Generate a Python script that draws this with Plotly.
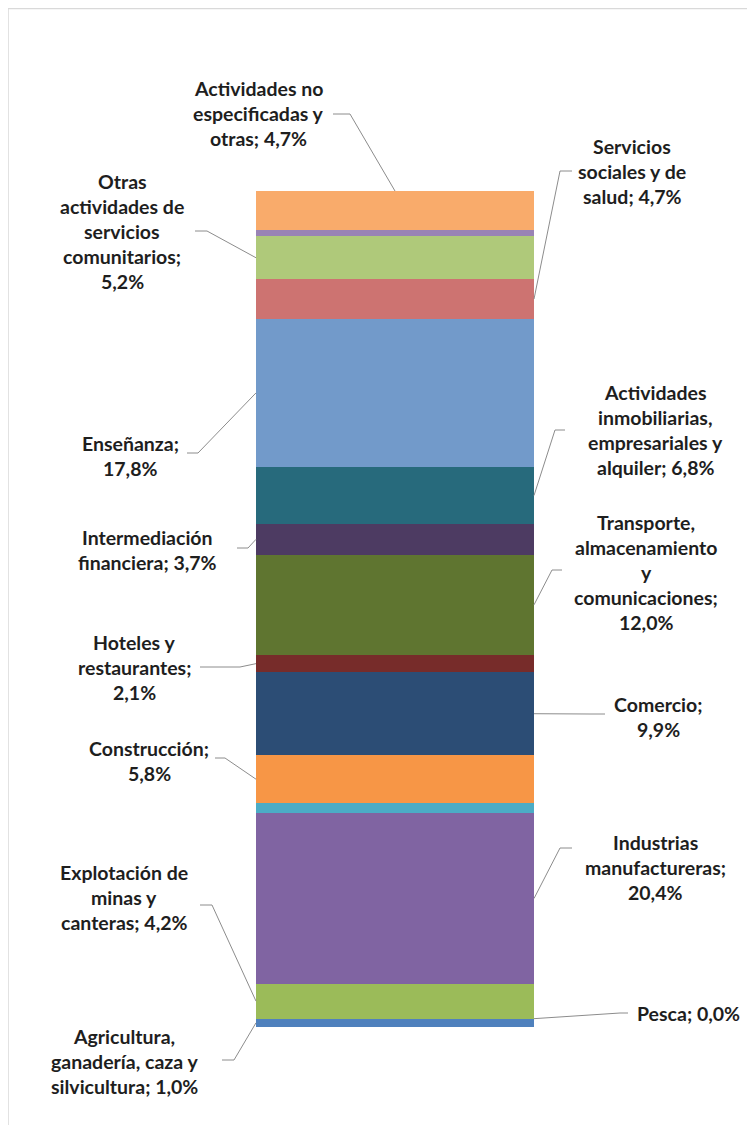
import plotly.graph_objects as go

# ---- data (bottom to top of the stacked column) ----
categories = [
    "Agricultura, ganadería, caza y silvicultura",
    "Pesca",
    "Explotación de minas y canteras",
    "Industrias manufactureras",
    "Suministro de electricidad, gas y agua",
    "Construcción",
    "Comercio",
    "Hoteles y restaurantes",
    "Transporte, almacenamiento y comunicaciones",
    "Intermediación financiera",
    "Actividades inmobiliarias, empresariales y alquiler",
    "Enseñanza",
    "Servicios sociales y de salud",
    "Otras actividades de servicios comunitarios",
    "Hogares privados con servicio doméstico",
    "Actividades no especificadas y otras",
]
values = [1.0, 0.0, 4.2, 20.4, 1.2, 5.8, 9.9, 2.1, 12.0, 3.7, 6.8, 17.8, 4.7, 5.2, 0.7, 4.7]
colors = ["#4F81BD", "#C0504D", "#9BBB59", "#8064A2", "#4BACC6", "#F79646",
          "#2C4D75", "#772C2A", "#5F7530", "#4D3B62", "#276A7C", "#729ACA",
          "#CD7371", "#AFC97A", "#9983B5", "#F9AB6B"]

# label text lines (None = not labelled)
label_lines = [
    ["Agricultura,", "ganadería, caza y", "silvicultura; 1,0%"],
    ["Pesca; 0,0%"],
    ["Explotación de", "minas y", "canteras; 4,2%"],
    ["Industrias", "manufactureras;", "20,4%"],
    None,
    ["Construcción;", "5,8%"],
    ["Comercio;", "9,9%"],
    ["Hoteles y", "restaurantes;", "2,1%"],
    ["Transporte,", "almacenamiento", "y", "comunicaciones;", "12,0%"],
    ["Intermediación", "financiera; 3,7%"],
    ["Actividades", "inmobiliarias,", "empresariales y", "alquiler; 6,8%"],
    ["Enseñanza;", "17,8%"],
    ["Servicios", "sociales y de", "salud; 4,7%"],
    ["Otras", "actividades de", "servicios", "comunitarios;", "5,2%"],
    None,
    ["Actividades no", "especificadas y", "otras; 4,7%"],
]

# ---- layout (page-pixel positions of labels & leader lines) ----
PAGE_W, PAGE_H = 755, 1133
OFF = 8                      # browser body margin
W, H = PAGE_W - 2 * OFF, PAGE_H - 2 * OFF
BAR_CX, BAR_W = 395, 278
BAR_TOP, BAR_BOT = 191, 1027
LINE_H = 25
# center x, first line y, leader start (x,y), elbow x, attach side
label_layout = [
    (124, 1036, (222, 1060), 234, "left"),
    (688, 1013, (628, 1013), 620, "right"),
    (124, 872, (200, 905), 212, "left"),
    (655, 842, (572, 848), 560, "right"),
    None,
    (149, 748, (215, 758), 225, "left"),
    (658, 704, (605, 714), 590, "right"),
    (134, 642, (200, 667), 240, "left"),
    (646, 522, (562, 570), 552, "right"),
    (147, 537, (237, 548), 248, "left"),
    (655, 392, (565, 430), 555, "right"),
    (130, 443, (187, 453), 198, "left"),
    (632, 146, (572, 171), 560, "right"),
    (122, 181, (195, 231), 207, "left"),
    None,
    (258, 88, (333, 114), 350, "top"),
]

total = sum(values)
s = (BAR_BOT - BAR_TOP) / total


def px_x(px):
    return (px - BAR_CX) / BAR_W


def px_y(py):
    return (BAR_BOT - py) / s


fig = go.Figure()
for cat, v, c in zip(categories, values, colors):
    fig.add_trace(go.Bar(x=[0], y=[v], name=cat, width=1,
                         marker=dict(color=c, line=dict(width=0)),
                         hovertemplate=cat + ": %{y:.1f}%<extra></extra>"))

annotations = []
shapes = []
cum = 0.0
for v, lines, lay in zip(values, label_lines, label_layout):
    bottom, top = cum, cum + v
    cum = top
    if lines is None:
        continue
    cx, y0, (sx, sy), ex, side = lay
    for i, t in enumerate(lines):
        annotations.append(dict(
            x=px_x(cx), y=px_y(y0 + i * LINE_H), xref="x", yref="y",
            text="<b>" + t + "</b>", showarrow=False,
            xanchor="center", yanchor="middle",
            font=dict(family="Lato", size=19.5, color="#1E1E1E")))
    if side == "left":
        bx, by = -0.5, (bottom + top) / 2
    elif side == "right":
        bx, by = 0.5, (bottom + top) / 2
    else:
        bx, by = 0.0, top
    path = "M {} {} L {} {} L {} {}".format(px_x(sx), px_y(sy), px_x(ex), px_y(sy), bx, by)
    shapes.append(dict(type="path", path=path, xref="x", yref="y",
                       line=dict(color="#8C8C8C", width=1)))

# outer frame of the chart area
shapes.append(dict(type="rect", xref="paper", yref="paper",
                   x0=0, x1=1.05, y0=-0.05, y1=1 - 0.5 / H,
                   line=dict(color="#D9D9D9", width=1.5), layer="below"))

fig.update_layout(
    width=W, height=H,
    margin=dict(l=0, r=0, t=0, b=0),
    barmode="stack", bargap=0,
    showlegend=False,
    paper_bgcolor="white", plot_bgcolor="white",
    xaxis=dict(range=[px_x(OFF), px_x(OFF + W)], visible=False, fixedrange=True),
    yaxis=dict(range=[px_y(OFF + H), px_y(OFF)], visible=False, fixedrange=True),
    annotations=annotations, shapes=shapes,
)

fig.write_html("out.html")
